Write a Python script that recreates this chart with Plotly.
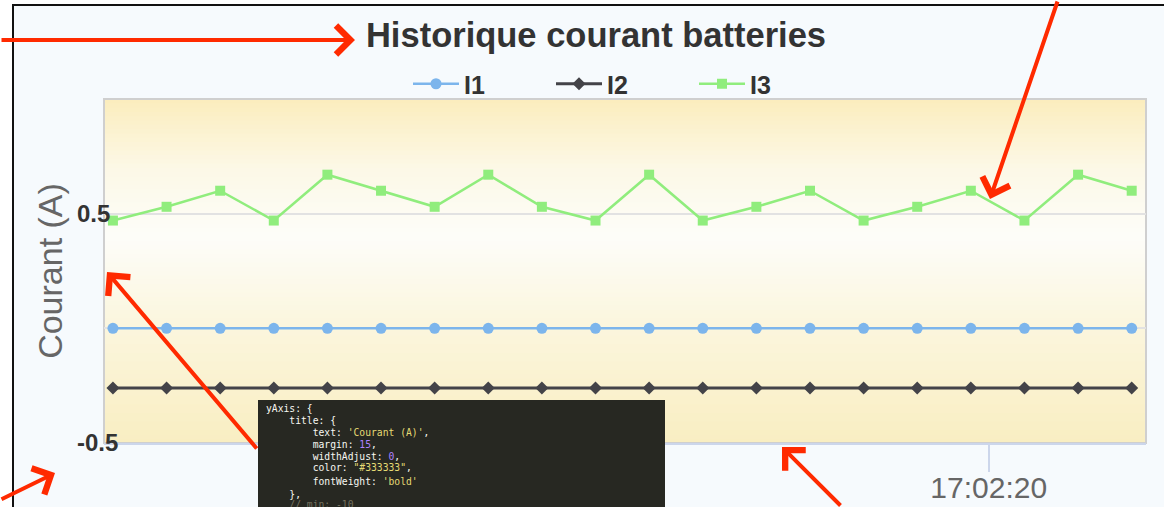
import plotly.graph_objects as go

# ---------------- data ----------------
times = [
    "2024-01-01 17:01:31", "2024-01-01 17:01:34", "2024-01-01 17:01:37", "2024-01-01 17:01:40",
    "2024-01-01 17:01:43", "2024-01-01 17:01:46", "2024-01-01 17:01:49", "2024-01-01 17:01:52",
    "2024-01-01 17:01:55", "2024-01-01 17:01:58", "2024-01-01 17:02:01", "2024-01-01 17:02:04",
    "2024-01-01 17:02:07", "2024-01-01 17:02:10", "2024-01-01 17:02:13", "2024-01-01 17:02:16",
    "2024-01-01 17:02:19", "2024-01-01 17:02:22", "2024-01-01 17:02:25", "2024-01-01 17:02:28",
]
i1 = [0.0, 0.0, 0.0, 0.0, 0.0, 0.0, 0.0, 0.0, 0.0, 0.0,
      0.0, 0.0, 0.0, 0.0, 0.0, 0.0, 0.0, 0.0, 0.0, 0.0]
i2 = [-0.26, -0.26, -0.26, -0.26, -0.26, -0.26, -0.26, -0.26, -0.26, -0.26,
      -0.26, -0.26, -0.26, -0.26, -0.26, -0.26, -0.26, -0.26, -0.26, -0.26]
i3 = [0.47, 0.53, 0.60, 0.47, 0.67, 0.60, 0.53, 0.67, 0.53, 0.47,
      0.67, 0.47, 0.53, 0.60, 0.47, 0.53, 0.60, 0.47, 0.67, 0.60]
series_names = ["I1", "I2", "I3"]
x_tick_vals = ["2024-01-01 17:02:20"]
x_tick_text = ["17:02:20"]
y_tick_vals = [-0.5, 0, 0.5, 1.0]
y_tick_text = ["-0.5", "", "0.5", ""]
x_range = ["2024-01-01 17:01:30.5", "2024-01-01 17:02:28.8"]
y_range = [-0.5, 1.0]

# ---------------- geometry helpers ----------------
W, H = 1164, 507
L, R, T, B = 104, 18, 99, 64
PW, PH = W - L - R, H - T - B


def px(x):
    return (x - L) / PW


def py(y):
    return (H - B - y) / PH


FONT = "Liberation Sans, Arial, Helvetica, sans-serif"

fig = go.Figure()
fig.add_trace(go.Scatter(
    x=times, y=i1, name=series_names[0], mode="lines+markers",
    line=dict(color="#7cb5ec", width=2.5),
    marker=dict(symbol="circle", size=11, color="#7cb5ec")))
fig.add_trace(go.Scatter(
    x=times, y=i2, name=series_names[1], mode="lines+markers",
    line=dict(color="#434348", width=3),
    marker=dict(symbol="diamond", size=10, color="#434348")))
fig.add_trace(go.Scatter(
    x=times, y=i3, name=series_names[2], mode="lines+markers",
    line=dict(color="#90ed7d", width=2.5),
    marker=dict(symbol="square", size=10, color="#90ed7d")))

shapes = []
# outer frame (screenshot border)
shapes.append(dict(type="rect", xref="paper", yref="paper",
                   x0=px(13), x1=px(1400), y0=py(800), y1=py(5),
                   fillcolor="#f6fafd", line=dict(color="#111111", width=2),
                   layer="below"))

# plot background gradient (yellow -> white -> yellow)
stops = [(0.0, (249, 238, 194)), (0.35, (251, 246, 222)), (0.6, (253, 253, 249)),
         (0.8, (252, 248, 230)), (1.0, (251, 237, 189))]


def grad(t):
    for (a, ca), (b, cb) in zip(stops[:-1], stops[1:]):
        if a <= t <= b:
            f = (t - a) / (b - a)
            c = [round(ca[k] + (cb[k] - ca[k]) * f) for k in range(3)]
            return "rgb(%d,%d,%d)" % tuple(c)
    return "rgb(%d,%d,%d)" % stops[-1][1]


N = 80
for k in range(N):
    shapes.append(dict(type="rect", xref="x domain", yref="y domain",
                       x0=0, x1=1, y0=k / N, y1=(k + 1) / N + 0.002,
                       fillcolor=grad((k + 0.5) / N), line=dict(width=0),
                       layer="below"))
# plot border
shapes.append(dict(type="rect", xref="x domain", yref="y domain",
                   x0=0, x1=1, y0=0, y1=1, fillcolor="rgba(0,0,0,0)",
                   line=dict(color="#cfcfcf", width=2), layer="below"))

# code snippet box (overlay in the screenshot)
shapes.append(dict(type="rect", xref="paper", yref="paper",
                   x0=px(258), x1=px(665), y0=py(530), y1=py(400),
                   fillcolor="#272822", line=dict(width=0), layer="above"))

annotations = []
# red arrows (screenshot annotations)
RED = "#ff2a00"
arrows = [((355, 40), (0, 40)), ((990, 199), (1058, -2)), ((107, 272), (258, 450)),
          ((55, 473), (-2, 500)), ((782, 447), (842, 509))]
for (tx, ty), (sx, sy) in arrows:
    annotations.append(dict(xref="paper", yref="paper", x=px(tx), y=py(ty),
                            ax=sx - tx, ay=sy - ty, text="", showarrow=True,
                            arrowhead=4, arrowsize=1.4, arrowwidth=4,
                            arrowcolor=RED, standoff=0))

WHITE, YEL, PUR, GRY = "#f8f8f2", "#e6db74", "#ae81ff", "#75715e"


def sp(t, c):
    return '<span style="color:%s">%s</span>' % (c, t)


NB = "\u00a0"
code_lines = [
    (0, sp("yAxis: {", WHITE)),
    (4, sp("title: {", WHITE)),
    (8, sp("text: ", WHITE) + sp("'Courant (A)'", YEL) + sp(",", WHITE)),
    (8, sp("margin: ", WHITE) + sp("15", PUR) + sp(",", WHITE)),
    (8, sp("widthAdjust: ", WHITE) + sp("0", PUR) + sp(",", WHITE)),
    (8, sp("color: ", WHITE) + sp('"#333333"', YEL) + sp(",", WHITE)),
    (8, sp("fontWeight: ", WHITE) + sp("'bold'", YEL)),
    (4, sp("},", WHITE)),
    (4, sp("// min: -10", GRY)),
]
line_y = [408, 420, 432, 444, 456, 468, 481, 494, 505]
for (ind, txt), yy in zip(code_lines, line_y):
    annotations.append(dict(xref="paper", yref="paper", x=px(264), y=py(yy),
                            xanchor="left", yanchor="middle", showarrow=False,
                            text=NB * ind + txt, align="left",
                            font=dict(family="DejaVu Sans Mono, monospace", size=9.7,
                                      color=WHITE)))

fig.update_layout(
    width=W, height=H,
    margin=dict(l=L, r=R, t=T, b=B, autoexpand=False),
    paper_bgcolor="white",
    plot_bgcolor="#fdfdf9",
    title=dict(text="Historique courant batteries", x=596 / W, y=1 - 35 / H,
               xref="container", yref="container", xanchor="center", yanchor="middle",
               font=dict(family=FONT, size=34.5, color="#333333", weight="bold")),
    legend=dict(orientation="h", x=px(408), xanchor="left",
                y=1 + (T - 84) / PH, yanchor="middle",
                font=dict(family=FONT, size=25, color="#333333", weight="bold"),
                bgcolor="rgba(0,0,0,0)", itemwidth=46, entrywidth=82),
    xaxis=dict(type="date", range=x_range, tickvals=x_tick_vals, ticktext=x_tick_text,
               ticks="outside", ticklen=27, tickwidth=2, tickcolor="#ccd6eb",
               ticklabelstandoff=-10,
               showgrid=False, zeroline=False,
               showline=True, linecolor="#ccd6eb", linewidth=2,
               tickfont=dict(family=FONT, size=30, color="#666666")),
    yaxis=dict(range=y_range, tickvals=y_tick_vals, ticktext=y_tick_text,
               showgrid=True, gridcolor="#e2e2e2", gridwidth=2, zeroline=False,
               ticks="", showline=False,
               ticklabelposition="inside", ticklabelstandoff=-30,
               ticklabeloverflow="allow",
               tickfont=dict(family=FONT, size=24, color="#333333", weight="bold"),
               title=dict(text="Courant (A)", standoff=4,
                          font=dict(family=FONT, size=34, color="#666666"))),
    shapes=shapes,
    annotations=annotations,
    showlegend=True,
    hovermode=False,
)

fig.write_html("out.html", config={"displayModeBar": False},
               post_script="document.body.style.margin='0';")
